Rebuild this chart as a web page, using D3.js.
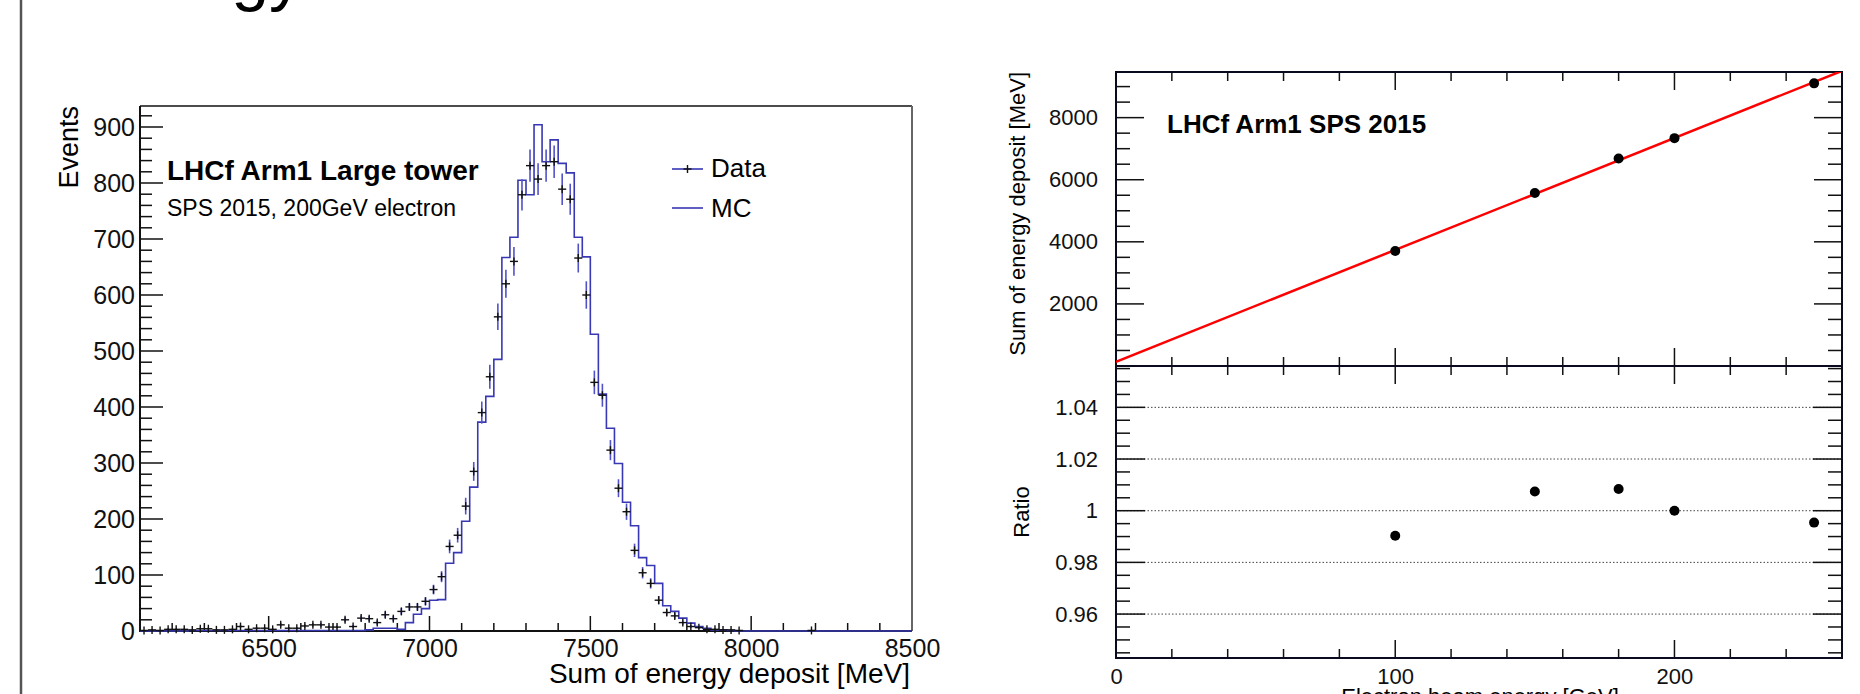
<!DOCTYPE html>
<html>
<head>
<meta charset="utf-8">
<script src="https://cdn.jsdelivr.net/npm/d3@7"></script>
<style>
  body { margin: 0; background: #fff; }
  svg { display: block; font-family: "Liberation Sans", Arial, Helvetica, sans-serif; }
</style>
</head>
<body>
<div class="container"></div>
<script>
const WIDTH = 1860;
const HEIGHT = 694;

// histogram binning (MeV)
const histStart = 6100;
const histEnd = 8500;
const binWidth = 25;

// MC counts per 25 MeV bin, starting at 6100 MeV
const mcCounts = [
  0, 0, 0, 0, 0, 0, 1, 1, 1, 1, 1, 1, 1, 1, 1, 1, 1, 1, 1, 1,
  1, 1, 1, 1, 1, 1, 1, 1, 2, 5, 5, 5, 3, 15, 30, 40, 55, 56, 121, 140,
  196, 257, 373, 419, 485, 667, 703, 805, 779, 904, 838, 877, 835, 818, 703, 668, 530, 423, 362, 299,
  230, 188, 131, 117, 85, 45, 35, 23, 14, 8, 5, 2, 2, 1, 0, 0, 0, 0, 0, 0,
  0, 0, 0, 0, 0, 0, 0, 0, 0, 0, 0, 0, 0, 0, 0, 0
];

// data counts per bin (0 = empty bin, not drawn)
const dataCounts = [
  1, 2, 1, 3, 3, 3, 2, 4, 4, 2, 2, 3, 8, 3, 5, 5, 3, 11, 5, 5,
  9, 11, 11, 7, 7, 20, 8, 23, 22, 15, 29, 22, 35, 43, 43, 53, 74, 97, 151, 171,
  223, 285, 390, 454, 561, 620, 660, 779, 831, 807, 831, 838, 789, 771, 666, 600, 444, 421, 323, 255,
  213, 144, 104, 85, 55, 33, 27, 15, 8, 6, 3, 3, 2, 2, 1, 0, 0, 0, 0, 0,
  0, 0, 0, 1, 0, 0, 0, 0, 0, 0, 0, 0, 0, 0, 0, 0
];

const histYTicks = [0, 100, 200, 300, 400, 500, 600, 700, 800, 900];
const histXTicks = [6500, 7000, 7500, 8000, 8500];

// linearity
const beamEnergy = [100, 150, 180, 200, 250];           // GeV
const energyDeposit = [3704, 5570, 6685, 7340, 9104];   // MeV
const ratioValues = [0.9903, 1.0074, 1.0084, 1.0000, 0.9954];
const fitSlope = 36.04;      // MeV / GeV
const fitIntercept = 136;    // MeV
const depositTicks = [2000, 4000, 6000, 8000];
const ratioTicks = [0.96, 0.98, 1, 1.02, 1.04];
const beamTicks = [0, 100, 200];

var FONT = '"Liberation Sans", Arial, sans-serif';
var plain = d3.format('d');

var svg = d3.select('.container').append('svg')
  .attr('width', WIDTH)
  .attr('height', HEIGHT);

svg.append('rect').attr('width', WIDTH).attr('height', HEIGHT).attr('fill', '#fff');

// slide decoration: page edge and clipped slide title
svg.append('line')
  .attr('x1', 21).attr('x2', 21).attr('y1', 0).attr('y2', HEIGHT)
  .attr('stroke', '#555').attr('stroke-width', 2.5);
svg.append('text')
  .attr('x', 303).attr('y', -2)
  .attr('text-anchor', 'end')
  .style('font-size', '68px')
  .text('Energy');

function minorTicks(from, to, step, skip) {
  var out = [];
  for (var v = from; v <= to + 1e-9; v += step) {
    var r = Math.round(v * 1e6) / 1e6;
    if (skip.indexOf(r) < 0) out.push(r);
  }
  return out;
}

function tickLines(g, values, fn, color) {
  g.selectAll(null).data(values).enter().append('line')
    .each(function (d) {
      var c = fn(d);
      d3.select(this).attr('x1', c[0]).attr('y1', c[1]).attr('x2', c[2]).attr('y2', c[3]);
    })
    .attr('stroke', color || '#111')
    .attr('stroke-width', 1.5);
}

function styleLabels(sel, size) {
  sel.select('.domain').remove();
  sel.selectAll('text').style('font-size', size).style('font-family', FONT).attr('fill', '#111');
}

// ---------------- left: energy deposit histogram ----------------
var hx = d3.scaleLinear().domain([histStart, histEnd]).range([140, 912]);
var hy = d3.scaleLinear().domain([0, 937.5]).range([631, 106]);
var bins = d3.range(histStart, histEnd, binWidth);

var left = svg.append('g');

// y ticks (left side only, inward)
tickLines(left, histYTicks, function (d) { return [hx.range()[0], hy(d), hx.range()[0] + 23, hy(d)]; });
tickLines(left, minorTicks(0, 937, 20, histYTicks), function (d) { return [hx.range()[0], hy(d), hx.range()[0] + 12, hy(d)]; });
// x ticks (bottom, inward)
tickLines(left, histXTicks, function (d) { return [hx(d), hy(0), hx(d), hy(0) - 15]; });
tickLines(left, minorTicks(6200, 8500, 100, histXTicks), function (d) { return [hx(d), hy(0), hx(d), hy(0) - 8]; });

left.append('g')
  .attr('transform', 'translate(' + hx.range()[0] + ',0)')
  .call(d3.axisLeft(hy).tickValues(histYTicks).tickFormat(plain).tickSize(0).tickPadding(5))
  .call(styleLabels, '25px');

left.append('g')
  .attr('transform', 'translate(0,' + hy(0) + ')')
  .call(d3.axisBottom(hx).tickValues(histXTicks).tickFormat(plain).tickSize(0).tickPadding(8))
  .call(styleLabels, '25px');

// frame
left.append('line').attr('x1', 140).attr('x2', 912).attr('y1', 106).attr('y2', 106).attr('stroke', '#111').attr('stroke-width', 1.5);
left.append('line').attr('x1', 912).attr('x2', 912).attr('y1', 106).attr('y2', 631).attr('stroke', '#666').attr('stroke-width', 2);
left.append('line').attr('x1', 140).attr('x2', 140).attr('y1', 106).attr('y2', 632).attr('stroke', '#111').attr('stroke-width', 2);
left.append('line').attr('x1', 139).attr('x2', 912).attr('y1', 631).attr('y2', 631).attr('stroke', '#111').attr('stroke-width', 2);

// data: blue error bars, black + markers
var dataBins = bins.map(function (lo, i) { return { lo: lo, n: dataCounts[i] }; })
  .filter(function (d) { return d.n > 0; });

var pts = left.append('g');
pts.selectAll('.err').data(dataBins).enter().append('line')
  .attr('x1', function (d) { return hx(d.lo + binWidth / 2); })
  .attr('x2', function (d) { return hx(d.lo + binWidth / 2); })
  .attr('y1', function (d) { return hy(d.n + Math.sqrt(d.n)); })
  .attr('y2', function (d) { return hy(Math.max(0, d.n - Math.sqrt(d.n))); })
  .attr('stroke', '#5252c8').attr('stroke-width', 1.6);

// MC histogram outline
var mcPts = [];
bins.forEach(function (lo, i) {
  mcPts.push([lo, mcCounts[i]]);
  mcPts.push([lo + binWidth, mcCounts[i]]);
});
left.append('path')
  .attr('d', d3.line().x(function (d) { return hx(d[0]); }).y(function (d) { return hy(d[1]); })(mcPts))
  .attr('fill', 'none').attr('stroke', '#3838b4').attr('stroke-width', 1.6);

pts.raise();
pts.selectAll('.mh').data(dataBins).enter().append('line')
  .attr('x1', function (d) { return hx(d.lo); })
  .attr('x2', function (d) { return hx(d.lo + binWidth); })
  .attr('y1', function (d) { return hy(d.n); })
  .attr('y2', function (d) { return hy(d.n); })
  .attr('stroke', '#111').attr('stroke-width', 1.4);
pts.selectAll('.mv').data(dataBins).enter().append('line')
  .attr('x1', function (d) { return hx(d.lo + binWidth / 2); })
  .attr('x2', function (d) { return hx(d.lo + binWidth / 2); })
  .attr('y1', function (d) { return hy(d.n) - 4; })
  .attr('y2', function (d) { return hy(d.n) + 4; })
  .attr('stroke', '#111').attr('stroke-width', 1.4);

// labels
left.append('text').attr('x', 167).attr('y', 180)
  .style('font-size', '28px').style('font-weight', 'bold').text('LHCf Arm1 Large tower');
left.append('text').attr('x', 167).attr('y', 216)
  .style('font-size', '23px').text('SPS 2015, 200GeV electron');
left.append('text').attr('transform', 'translate(78,106) rotate(-90)')
  .attr('text-anchor', 'end').style('font-size', '27px').text('Events');
left.append('text').attr('x', 910).attr('y', 683)
  .attr('text-anchor', 'end').style('font-size', '28px').text('Sum of energy deposit [MeV]');

// legend
var legend = left.append('g');
legend.append('line').attr('x1', 672).attr('x2', 703).attr('y1', 169).attr('y2', 169)
  .attr('stroke', '#3838b4').attr('stroke-width', 1.6);
legend.append('line').attr('x1', 683.5).attr('x2', 691.5).attr('y1', 169).attr('y2', 169)
  .attr('stroke', '#111').attr('stroke-width', 1.4);
legend.append('line').attr('x1', 687.5).attr('x2', 687.5).attr('y1', 165).attr('y2', 173)
  .attr('stroke', '#111').attr('stroke-width', 1.4);
legend.append('text').attr('x', 711).attr('y', 177).style('font-size', '26px').text('Data');
legend.append('line').attr('x1', 672).attr('x2', 703).attr('y1', 208).attr('y2', 208)
  .attr('stroke', '#3838b4').attr('stroke-width', 1.6);
legend.append('text').attr('x', 711).attr('y', 217).style('font-size', '26px').text('MC');

// ---------------- right: linearity + ratio ----------------
var rx = d3.scaleLinear().domain([0, 260]).range([1116, 1842]);
var ry = d3.scaleLinear().domain([0, 9470]).range([366, 72]);
var qy = d3.scaleLinear().domain([0.943, 1.056]).range([658, 366]);

var right = svg.append('g');
var xMinor = minorTicks(20, 260, 20, beamTicks);

// upper pad ticks
tickLines(right, depositTicks, function (d) { return [1116, ry(d), 1144, ry(d)]; });
tickLines(right, depositTicks, function (d) { return [1842, ry(d), 1814, ry(d)]; });
var depMinor = minorTicks(500, 9470, 500, depositTicks);
tickLines(right, depMinor, function (d) { return [1116, ry(d), 1130, ry(d)]; });
tickLines(right, depMinor, function (d) { return [1842, ry(d), 1828, ry(d)]; });
tickLines(right, [100, 200], function (d) { return [rx(d), 72, rx(d), 90]; });
tickLines(right, [100, 200], function (d) { return [rx(d), 366, rx(d), 348]; });
tickLines(right, xMinor, function (d) { return [rx(d), 72, rx(d), 81]; });
tickLines(right, xMinor, function (d) { return [rx(d), 366, rx(d), 357]; });

// lower pad grid + ticks
right.selectAll('.grid').data(ratioTicks).enter().append('line')
  .attr('x1', 1116).attr('x2', 1842)
  .attr('y1', function (d) { return qy(d); }).attr('y2', function (d) { return qy(d); })
  .attr('stroke', '#444').attr('stroke-width', 1).attr('stroke-dasharray', '1.5,2');
tickLines(right, ratioTicks, function (d) { return [1116, qy(d), 1145, qy(d)]; });
tickLines(right, ratioTicks, function (d) { return [1842, qy(d), 1813, qy(d)]; });
var ratioMinor = minorTicks(0.945, 1.055, 0.005, ratioTicks);
tickLines(right, ratioMinor, function (d) { return [1116, qy(d), 1130, qy(d)]; });
tickLines(right, ratioMinor, function (d) { return [1842, qy(d), 1828, qy(d)]; });
tickLines(right, [100, 200], function (d) { return [rx(d), 366, rx(d), 384]; });
tickLines(right, [100, 200], function (d) { return [rx(d), 658, rx(d), 640]; });
tickLines(right, xMinor, function (d) { return [rx(d), 366, rx(d), 375]; });
tickLines(right, xMinor, function (d) { return [rx(d), 658, rx(d), 649]; });

// frames
right.append('rect').attr('x', 1116).attr('y', 72).attr('width', 726).attr('height', 294)
  .attr('fill', 'none').attr('stroke', '#0a0a1e').attr('stroke-width', 2);
right.append('rect').attr('x', 1116).attr('y', 366).attr('width', 726).attr('height', 292)
  .attr('fill', 'none').attr('stroke', '#0a0a1e').attr('stroke-width', 2);

// axis labels
right.append('g')
  .attr('transform', 'translate(1098,0)')
  .call(d3.axisLeft(ry).tickValues(depositTicks).tickFormat(plain).tickSize(0).tickPadding(0))
  .call(styleLabels, '22px');
right.append('g')
  .attr('transform', 'translate(1098,0)')
  .call(d3.axisLeft(qy).tickValues(ratioTicks).tickSize(0).tickPadding(0)
    .tickFormat(function (d) { return String(+d.toFixed(2)); }))
  .call(styleLabels, '22px');
right.append('g')
  .attr('transform', 'translate(0,668)')
  .call(d3.axisBottom(rx).tickValues(beamTicks).tickFormat(plain).tickSize(0).tickPadding(0))
  .call(styleLabels, '22px');

right.append('text').attr('transform', 'translate(1025,72) rotate(-90)')
  .attr('text-anchor', 'end').style('font-size', '22px').text('Sum of energy deposit [MeV]');
right.append('text').attr('transform', 'translate(1029,512) rotate(-90)')
  .attr('text-anchor', 'middle').style('font-size', '22px').text('Ratio');
right.append('text').attr('x', 1480).attr('y', 704)
  .attr('text-anchor', 'middle').style('font-size', '22px').text('Electron beam energy [GeV]');
right.append('text').attr('x', 1167).attr('y', 133)
  .style('font-size', '26px').style('font-weight', 'bold').text('LHCf Arm1 SPS 2015');

// fit line, clipped to the upper frame
svg.append('clipPath').attr('id', 'topclip').append('rect')
  .attr('x', 1116).attr('y', 72).attr('width', 726).attr('height', 294);
right.append('path')
  .attr('clip-path', 'url(#topclip)')
  .attr('d', d3.line().x(function (d) { return rx(d); }).y(function (d) { return ry(fitIntercept + fitSlope * d); })([0, 260]))
  .attr('fill', 'none').attr('stroke', '#ff0000').attr('stroke-width', 2.5);

right.selectAll('.dep').data(beamEnergy).enter().append('circle')
  .attr('cx', function (d) { return rx(d); })
  .attr('cy', function (d, i) { return ry(energyDeposit[i]); })
  .attr('r', 5).attr('fill', '#000');
right.selectAll('.rat').data(beamEnergy).enter().append('circle')
  .attr('cx', function (d) { return rx(d); })
  .attr('cy', function (d, i) { return qy(ratioValues[i]); })
  .attr('r', 5).attr('fill', '#000');
</script>
</body>
</html>
